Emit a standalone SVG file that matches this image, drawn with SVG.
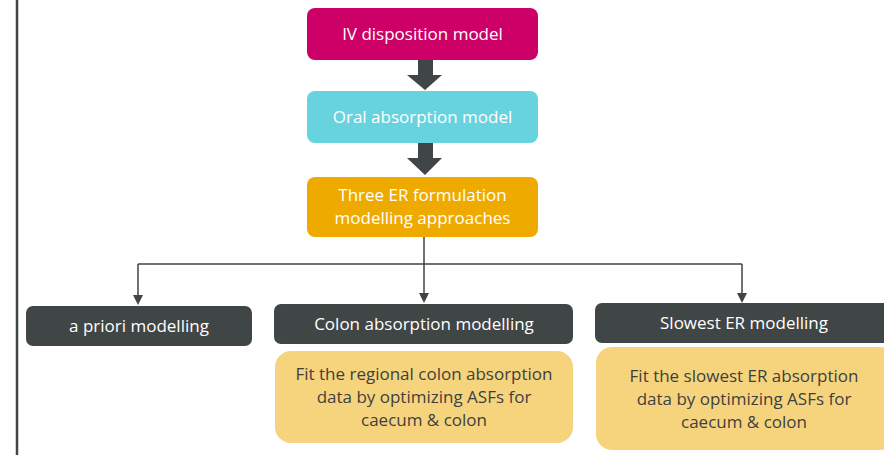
<svg xmlns="http://www.w3.org/2000/svg" width="884" height="455" viewBox="0 0 884 455">
<defs>
<style>
.t{font-family:"Open Sans","Liberation Sans",sans-serif;font-size:17px;text-anchor:middle}
.w{fill:#ffffff}
.d{fill:#3f3f3f}
.dark{fill:#404545}
.yel{fill:#F6D47E}
.conn{fill:none;stroke:#404545;stroke-width:1.5}
</style>
</defs>
<rect width="884" height="455" fill="#ffffff"/>
<line x1="17" y1="0" x2="17" y2="455" stroke="#404545" stroke-width="2.5"/>
<g id="connectors">
<path d="M418,60 H433 V75 H442 L425,90 L407,75 H418 Z" fill="#404545"/>
<path d="M418,143 H433 V158 H442 L425,175 L407,158 H418 Z" fill="#404545"/>
<path class="conn" d="M424,237 V264 M138,264 H742"/>
<path class="conn" d="M138,264 V296"/>
<path class="conn" d="M424,264 V294"/>
<path class="conn" d="M742,264 V294"/>
<path d="M133,295 L143,295 L138,305 Z" fill="#404545"/>
<path d="M419,293 L429,293 L424,303 Z" fill="#404545"/>
<path d="M737,293 L747,293 L742,303 Z" fill="#404545"/>
</g>
<g id="iv">
<rect x="307" y="8" width="231" height="52" rx="8" fill="#CC0066"/>
<text class="t w" x="422.5" y="40">IV disposition model</text>
</g>
<g id="oral">
<rect x="307" y="91" width="231" height="52" rx="8" fill="#66D3DF"/>
<text class="t w" x="422.5" y="123">Oral absorption model</text>
</g>
<g id="three">
<rect x="307" y="177" width="231" height="60" rx="8" fill="#EFAA00"/>
<text class="t w" x="422.5" y="201">Three ER formulation</text>
<text class="t w" x="422.5" y="224">modelling approaches</text>
</g>
<g id="apriori">
<rect x="26" y="306" width="226" height="40" rx="7" class="dark"/>
<text class="t w" x="139" y="332">a priori modelling</text>
</g>
<g id="colon">
<rect x="274" y="304" width="299" height="40" rx="7" class="dark"/>
<text class="t w" x="424" y="330">Colon absorption modelling</text>
</g>
<g id="colonfit">
<rect x="275" y="351" width="298" height="92" rx="16" class="yel"/>
<text class="t d" x="424" y="380">Fit the regional colon absorption</text>
<text class="t d" x="424" y="403">data by optimizing ASFs for</text>
<text class="t d" x="424" y="426">caecum &amp; colon</text>
</g>
<g id="slowest">
<rect x="595" y="303" width="300" height="40" rx="7" class="dark"/>
<text class="t w" x="744" y="329">Slowest ER modelling</text>
</g>
<g id="slowfit">
<rect x="596" y="347" width="300" height="103" rx="16" class="yel"/>
<text class="t d" x="744" y="382">Fit the slowest ER absorption</text>
<text class="t d" x="744" y="405">data by optimizing ASFs for</text>
<text class="t d" x="744" y="428">caecum &amp; colon</text>
</g>
</svg>
